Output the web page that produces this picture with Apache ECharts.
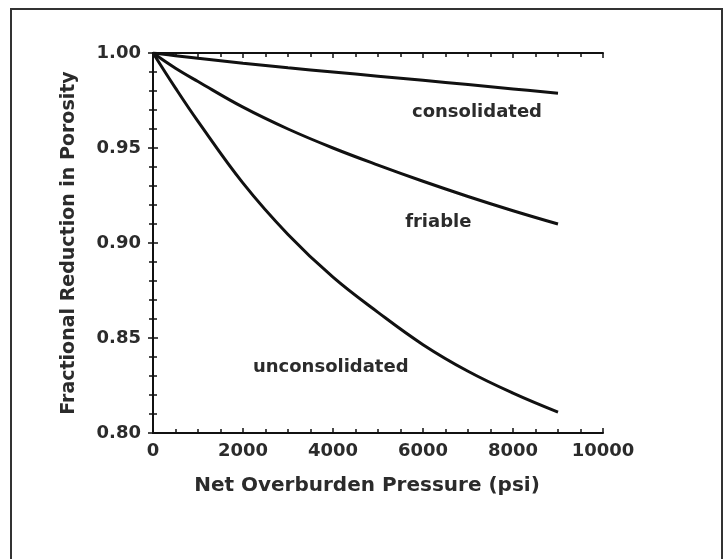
<!DOCTYPE html>
<html>
<head>
<meta charset="utf-8">
<script src="https://cdn.jsdelivr.net/npm/echarts@6/dist/echarts.min.js"></script>
<style>
  html, body { margin: 0; padding: 0; background: #fff; }
  #main { width: 723px; height: 559px; }
</style>
</head>
<body>
<div id="main"></div>
<script>
// pressure (psi) sample points
const pressure = [0, 500, 1000, 2000, 3000, 4000, 5000, 6000, 7000, 8000, 9000];
const consolidated = [1.0, 0.9986, 0.9972, 0.9946, 0.9922, 0.990, 0.9878, 0.9856, 0.9834, 0.9811, 0.9788];
const friable = [1.0, 0.992, 0.985, 0.9715, 0.960, 0.950, 0.941, 0.9325, 0.9245, 0.917, 0.910];
const unconsolidated = [1.0, 0.9815, 0.964, 0.9315, 0.9045, 0.882, 0.8635, 0.8465, 0.8325, 0.821, 0.811];

// curve labels, placed in data coordinates
const labelNames = ['consolidated', 'friable', 'unconsolidated'];
const labelX = [7200, 6340, 3950];
const labelY = [0.969, 0.911, 0.8347];

const font = 'DejaVu Sans';
const ink = '#111';
const textInk = '#2b2b2b';

const toPairs = ys => pressure.map((p, i) => [p, ys[i]]);

const curve = (name, ys) => ({
    name: name,
    type: 'line',
    xAxisIndex: 0,
    yAxisIndex: 0,
    data: toPairs(ys),
    smooth: 0.4,
    symbol: 'none',
    lineStyle: { color: ink, width: 3 },
    z: 3
});

const chart = echarts.init(document.getElementById('main'));

const mirrorX = {
    type: 'value', position: 'top', min: 0, max: 10000, interval: 2000,
    axisLine: { show: true, lineStyle: { color: ink, width: 2 } },
    axisTick: { show: true, inside: true, length: 5, lineStyle: { color: ink, width: 1.5 } },
    minorTick: { show: true, splitNumber: 4, length: 4, lineStyle: { color: ink, width: 1.5 } },
    axisLabel: { show: false },
    splitLine: { show: false }
};

const mirrorY = {
    type: 'value', position: 'right', min: 0.8, max: 1.0, interval: 0.05,
    axisLine: { show: true, lineStyle: { color: ink, width: 2 } },
    axisTick: { show: true, inside: true, length: 5, lineStyle: { color: ink, width: 1.5 } },
    minorTick: { show: true, splitNumber: 5, length: 4, lineStyle: { color: ink, width: 1.5 } },
    axisLabel: { show: false },
    splitLine: { show: false }
};

const option = {
    backgroundColor: '#fff',
    animation: false,
    grid: { left: 153, right: 120, top: 53, bottom: 126 },
    graphic: [{
        type: 'rect',
        shape: { x: 11, y: 9, width: 711, height: 600 },
        style: { fill: 'none', stroke: '#333', lineWidth: 2 },
        silent: true
    }],
    xAxis: [
        {
            type: 'value', position: 'bottom', min: 0, max: 10000, interval: 2000,
            name: 'Net Overburden Pressure (psi)',
            nameLocation: 'middle',
            nameGap: 43,
            nameTextStyle: { fontFamily: font, fontWeight: 'bold', fontSize: 20, color: textInk, padding: [0, 22, 0, 0] },
            axisLine: { show: true, lineStyle: { color: ink, width: 2 } },
            axisTick: { show: true, inside: true, length: 5, lineStyle: { color: ink, width: 1.5 } },
            minorTick: { show: true, splitNumber: 4, length: 4, lineStyle: { color: ink, width: 1.5 } },
            axisLabel: {
                fontFamily: font, fontWeight: 'bold', fontSize: 18, color: textInk, margin: 9,
                formatter: v => String(v)
            },
            splitLine: { show: false }
        },
        mirrorX
    ],
    yAxis: [
        {
            type: 'value', position: 'left', min: 0.8, max: 1.0, interval: 0.05,
            name: 'Fractional Reduction in Porosity',
            nameLocation: 'middle',
            nameGap: 74,
            nameTextStyle: { fontFamily: font, fontWeight: 'bold', fontSize: 19, color: textInk },
            axisLine: { show: true, lineStyle: { color: ink, width: 2 } },
            axisTick: { show: true, inside: true, length: 5, lineStyle: { color: ink, width: 1.5 } },
            minorTick: { show: true, splitNumber: 5, length: 4, lineStyle: { color: ink, width: 1.5 } },
            axisLabel: {
                fontFamily: font, fontWeight: 'bold', fontSize: 18, color: textInk, margin: 12,
                formatter: v => v.toFixed(2)
            },
            splitLine: { show: false }
        },
        mirrorY
    ],
    series: [
        curve('consolidated', consolidated),
        curve('friable', friable),
        curve('unconsolidated', unconsolidated),
        {
            name: 'labels',
            type: 'scatter',
            xAxisIndex: 0,
            yAxisIndex: 0,
            symbolSize: 0,
            itemStyle: { opacity: 1 },
            data: labelNames.map((n, i) => ({ name: n, value: [labelX[i], labelY[i]] })),
            label: {
                show: true,
                position: 'inside',
                formatter: p => p.name,
                fontFamily: font,
                fontWeight: 'bold',
                fontSize: 18,
                color: textInk,
                opacity: 1
            },
            silent: true
        }
    ]
};

chart.setOption(option);
</script>
</body>
</html>
